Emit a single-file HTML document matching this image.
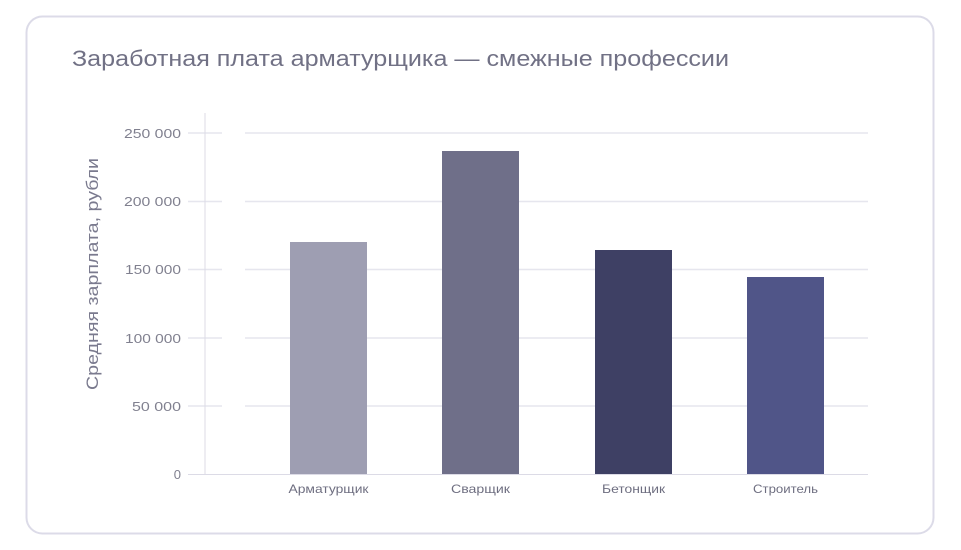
<!DOCTYPE html>
<html><head><meta charset="utf-8"><style>
html,body{margin:0;padding:0;background:#fff;}
svg{display:block;font-family:"Liberation Sans","DejaVu Sans",sans-serif;}
</style></head><body>
<svg width="961" height="550" viewBox="0 0 961 550" xmlns="http://www.w3.org/2000/svg">
<rect x="26.5" y="16.5" width="907" height="517" rx="16" fill="#fff" stroke="#dcdbe8" stroke-width="2"/>
<text x="72" y="66" font-size="22" fill="#717185" textLength="657" lengthAdjust="spacingAndGlyphs">Заработная плата арматурщика — смежные профессии</text>
<g stroke="#e6e6ee" stroke-width="1.5">
<line x1="188" y1="133" x2="222" y2="133"/><line x1="245" y1="133" x2="868" y2="133"/>
<line x1="188" y1="201.5" x2="222" y2="201.5"/><line x1="245" y1="201.5" x2="868" y2="201.5"/>
<line x1="188" y1="269.5" x2="222" y2="269.5"/><line x1="245" y1="269.5" x2="868" y2="269.5"/>
<line x1="188" y1="338" x2="222" y2="338"/><line x1="245" y1="338" x2="868" y2="338"/>
<line x1="188" y1="406" x2="222" y2="406"/><line x1="245" y1="406" x2="868" y2="406"/>
</g>
<line x1="205" y1="113" x2="205" y2="474" stroke="#dcdbe6" stroke-width="1"/>
<line x1="188" y1="474.5" x2="868" y2="474.5" stroke="#dcdbe6" stroke-width="1"/>
<g font-size="13" fill="#80808f" text-anchor="end">
<text x="181" y="138" textLength="57" lengthAdjust="spacingAndGlyphs">250 000</text>
<text x="181" y="206" textLength="57" lengthAdjust="spacingAndGlyphs">200 000</text>
<text x="181" y="274" textLength="56" lengthAdjust="spacingAndGlyphs">150 000</text>
<text x="181" y="343" textLength="56" lengthAdjust="spacingAndGlyphs">100 000</text>
<text x="181" y="411" textLength="49" lengthAdjust="spacingAndGlyphs">50 000</text>
<text x="181" y="479">0</text>
</g>
<text transform="translate(98,274) rotate(-90)" font-size="17" fill="#7a7a8e" text-anchor="middle" textLength="232" lengthAdjust="spacingAndGlyphs">Средняя зарплата, рубли</text>
<rect x="290" y="242" width="77" height="232" fill="#9e9eb2"/>
<rect x="442" y="151" width="77" height="323" fill="#6f6f89"/>
<rect x="595" y="250" width="77" height="224" fill="#3e4064"/>
<rect x="747" y="277" width="77" height="197" fill="#505588"/>
<g font-size="12" fill="#6e6e80" text-anchor="middle">
<text x="328.5" y="493" textLength="80" lengthAdjust="spacingAndGlyphs">Арматурщик</text>
<text x="480.5" y="493" textLength="59" lengthAdjust="spacingAndGlyphs">Сварщик</text>
<text x="633.5" y="493" textLength="63" lengthAdjust="spacingAndGlyphs">Бетонщик</text>
<text x="785.5" y="493" textLength="65" lengthAdjust="spacingAndGlyphs">Строитель</text>
</g>
</svg>
</body></html>
